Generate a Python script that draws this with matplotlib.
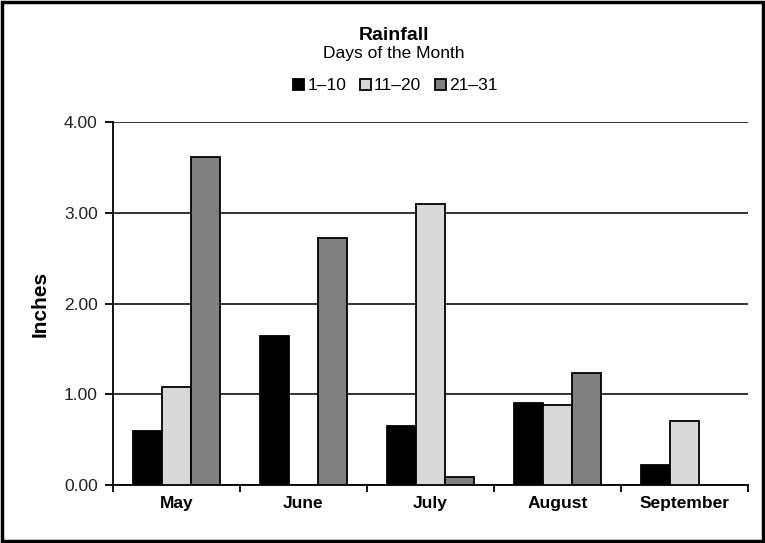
import numpy as np
import matplotlib.pyplot as plt
from matplotlib.patches import Rectangle

plt.rcParams['font.family'] = ['Liberation Sans', 'DejaVu Sans']

# data
months = ["May", "June", "July", "August", "September"]
days_1_10 = [0.60, 1.64, 0.65, 0.90, 0.22]
days_11_20 = [1.08, 0.00, 3.10, 0.88, 0.70]
days_21_31 = [3.61, 2.72, 0.09, 1.23, 0.00]
series_names = ["1\u201310", "11\u201320", "21\u201331"]
colors = ["#000000", "#d9d9d9", "#808080"]

fig = plt.figure(figsize=(7.65, 5.43), dpi=100)
ax = fig.add_axes([0.1477, 0.1068, 0.8301, 0.6685])

x = np.arange(len(months))
w = 0.23
handles = []
for k, vals in enumerate([days_1_10, days_11_20, days_21_31]):
    b = ax.bar(x + (k - 1) * w, vals, width=w, color=colors[k],
               edgecolor="black", linewidth=1.3, label=series_names[k], zorder=3)
    handles.append(b)

ax.set_xlim(-0.5, len(months) - 0.5)
ax.set_ylim(0, 4)
ax.set_yticks([0, 1, 2, 3, 4])
ax.set_yticklabels(["%.2f" % v for v in [0, 1, 2, 3, 4]], fontsize=12.5, color="#222222")
ax.yaxis.grid(True, color="#333333", linewidth=1.4, zorder=0)
ax.tick_params(axis="y", length=6, width=1.3, pad=5)

# ticks between categories, labels at centres
ax.set_xticks(np.arange(-0.5, len(months), 1.0))
ax.set_xticklabels([])
ax.tick_params(axis="x", which="major", length=5, width=1.3, direction="out")
ax.set_xticks(x, minor=True)
ax.set_xticklabels(months, minor=True, fontsize=12.5, fontweight="bold")
ax.tick_params(axis="x", which="minor", length=0, pad=8)

for s in ["top", "right"]:
    ax.spines[s].set_visible(False)
ax.spines["left"].set_linewidth(1.3)
ax.spines["bottom"].set_linewidth(1.3)

ax.set_ylabel("Inches", fontsize=15, fontweight="bold", labelpad=10)

fig.text(0.515, 0.934, "Rainfall", ha="center", va="center", fontsize=14, fontweight="bold")
fig.text(0.515, 0.902, "Days of the Month", ha="center", va="center", fontsize=12.5)
fig.legend(handles=handles, loc="center", bbox_to_anchor=(0.517, 0.842), ncol=3,
           frameon=False, fontsize=12.5, handlelength=0.6, handleheight=0.6,
           handletextpad=0.2, columnspacing=0.8)

# outer frame
fig.patches.append(Rectangle((0.003, 0.004), 0.994, 0.992, transform=fig.transFigure,
                             fill=False, edgecolor="black", linewidth=2.5))

fig.savefig("out.png", dpi=100)
